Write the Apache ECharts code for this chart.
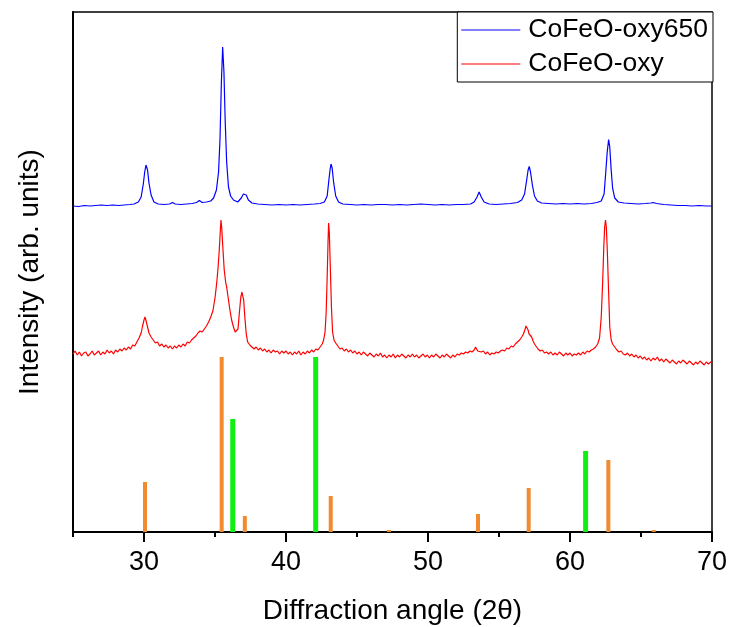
<!DOCTYPE html>
<html><head><meta charset="utf-8">
<script src="https://cdn.jsdelivr.net/npm/echarts@6/dist/echarts.min.js"></script>
<style>html,body{margin:0;padding:0;background:#fff}#c{width:729px;height:627px}</style>
</head><body><div id="c"></div><script>
const seriesNames = ['CoFeO-oxy650', 'CoFeO-oxy'];
const xTickLabels = [30, 40, 50, 60, 70];
const xMinorTicks = [25, 35, 45, 55, 65];

const blueData = [
[25.0,326],[25.4,325.5],[25.8,326.5],[26.2,326],[26.6,326.5],[27.0,327],[27.4,326.5],[27.8,327],[28.2,326.5],[28.6,327],
[29.0,327.5],[29.3,328],[29.6,330],[29.8,335],[29.95,348],[30.05,360],[30.14,367],[30.25,362],[30.35,349],[30.5,337],
[30.7,330],[31.0,328],[31.4,327.5],[31.8,328],[32.0,329.5],[32.2,328],[32.6,327.5],[33.0,328],[33.4,328.5],[33.7,329.5],
[33.9,331.5],[34.1,329.5],[34.4,330],[34.7,331],[34.9,334],[35.1,342],[35.25,360],[35.35,392],[35.45,450],[35.54,485],
[35.63,460],[35.72,410],[35.82,370],[35.95,345],[36.1,336],[36.3,332],[36.6,330],[36.85,334],[37.0,338],[37.1,340],
[37.2,337],[37.35,332],[37.6,329],[38.0,328],[38.5,327.5],[39.0,327],[39.5,327.5],[40.0,327],[40.5,327.5],[41.0,327],
[41.5,327.5],[42.0,328],[42.4,328.5],[42.7,330],[42.9,336],[43.02,352],[43.1,362],[43.17,368],[43.25,364],[43.35,350],
[43.5,336],[43.7,330],[44.0,328],[44.5,327.5],[45.0,327],[45.5,327.5],[46.0,327],[46.5,327.5],[47.0,327.5],[47.5,327],
[48.0,327.5],[48.5,327],[49.0,327.5],[49.5,328],[50.0,327.5],[50.5,327],[51.0,327.5],[51.5,327],[52.0,327.5],[52.5,327.5],
[53.0,328],[53.25,330],[53.45,335],[53.6,340],[53.75,335],[53.95,330],[54.3,328],[54.8,327.5],[55.3,328],[55.8,328.5],
[56.3,329.5],[56.6,332],[56.8,338],[56.95,352],[57.05,362],[57.13,365.5],[57.22,360],[57.35,347],[57.5,336],[57.7,331],
[58.0,329],[58.5,328.5],[59.0,328],[59.5,328.5],[60.0,328],[60.5,328.5],[61.0,328],[61.5,328.5],[61.9,329.5],[62.2,331],
[62.4,338],[62.52,360],[62.62,380],[62.72,392.5],[62.8,385],[62.9,362],[63.0,344],[63.15,334],[63.4,330],[63.8,329],
[64.3,328.5],[64.8,328],[65.3,328.5],[65.7,329],[65.85,329.5],[66.1,328.5],[66.6,327.5],[67.1,327],[67.6,326.5],[68.1,326.5],
[68.6,326],[69.1,326.5],[69.6,326],[70.0,326]
];

const redData = [
[25.0,178],[25.15,181],[25.3,177],[25.45,180],[25.6,176],[25.75,179],[25.9,180],[26.05,176],[26.2,178],[26.35,181],
[26.5,177],[26.65,179],[26.8,181],[26.95,177],[27.1,180],[27.25,178],[27.4,182],[27.55,179],[27.7,181],[27.85,178],
[28.0,182],[28.15,180],[28.3,183],[28.45,181],[28.6,184],[28.75,182],[28.9,185],[29.05,183],[29.2,187],[29.35,186],
[29.5,190],[29.65,194],[29.8,199],[29.9,206],[30.0,212],[30.07,215],[30.15,211],[30.25,205],[30.35,199],[30.5,195],
[30.65,192],[30.8,189],[30.95,190],[31.1,186],[31.25,188],[31.4,185],[31.55,187],[31.7,184],[31.85,186],[32.0,183],
[32.15,186],[32.3,184],[32.45,187],[32.6,185],[32.75,188],[32.9,186],[33.05,190],[33.2,189],[33.35,192],[33.5,194],
[33.65,196],[33.8,199],[33.95,201],[34.1,200],[34.25,203],[34.4,206],[34.55,210],[34.7,215],[34.85,221],[35.0,234],
[35.12,249],[35.22,265],[35.3,282],[35.37,300],[35.42,312],[35.47,305],[35.55,285],[35.65,262],[35.75,250],[35.82,245],
[35.95,232],[36.05,222],[36.17,212],[36.3,205],[36.42,200],[36.53,199],[36.62,203],[36.72,220],[36.82,235],[36.9,240],
[36.95,239],[37.02,232],[37.1,215],[37.2,198],[37.3,190],[37.45,187],[37.6,185],[37.75,183],[37.9,185],[38.05,182],
[38.2,184],[38.35,181],[38.5,183],[38.65,180],[38.8,182],[38.95,179],[39.1,182],[39.25,180],[39.4,181],[39.55,178],
[39.7,181],[39.85,179],[40.0,181],[40.15,178],[40.3,180],[40.45,177],[40.6,180],[40.75,178],[40.9,181],[41.05,177],
[41.2,180],[41.35,178],[41.5,181],[41.65,179],[41.8,182],[41.95,180],[42.1,183],[42.25,182],[42.4,185],[42.55,188],
[42.65,192],[42.75,200],[42.83,220],[42.9,255],[42.96,290],[43.0,309],[43.05,300],[43.12,265],[43.2,225],[43.28,200],
[43.38,192],[43.5,189],[43.65,186],[43.8,183],[43.95,184],[44.1,181],[44.25,183],[44.4,180],[44.55,182],[44.7,179],
[44.85,181],[45.0,178],[45.15,180],[45.3,177],[45.45,180],[45.6,178],[45.75,176],[45.9,179],[46.05,177],[46.2,175],
[46.35,178],[46.5,176],[46.65,179],[46.8,175],[46.95,177],[47.1,174],[47.25,177],[47.4,175],[47.55,178],[47.7,174],
[47.85,177],[48.0,175],[48.15,178],[48.3,176],[48.45,174],[48.6,177],[48.75,175],[48.9,178],[49.05,175],[49.2,177],
[49.35,174],[49.5,176],[49.65,178],[49.8,175],[49.95,177],[50.1,174],[50.25,177],[50.4,175],[50.55,178],[50.7,176],
[50.85,174],[51.0,177],[51.15,175],[51.3,178],[51.45,176],[51.6,174],[51.75,177],[51.9,175],[52.05,178],[52.2,177],
[52.35,179],[52.5,178],[52.65,180],[52.8,179],[52.95,181],[53.1,180],[53.25,182],[53.35,185],[53.43,183],[53.5,181],
[53.6,183],[53.75,180],[53.9,181],[54.05,178],[54.2,180],[54.35,177],[54.5,179],[54.65,178],[54.8,180],[54.95,179],
[55.1,181],[55.25,182],[55.4,181],[55.55,184],[55.7,183],[55.85,186],[56.0,185],[56.15,188],[56.3,190],[56.45,192],
[56.6,195],[56.72,198],[56.82,202],[56.9,206],[56.97,204],[57.05,202],[57.12,198],[57.2,200],[57.3,195],[57.4,191],
[57.5,188],[57.6,186],[57.75,183],[57.9,181],[58.05,182],[58.2,179],[58.35,180],[58.5,178],[58.65,180],[58.8,177],
[58.95,179],[59.1,177],[59.25,180],[59.4,178],[59.55,176],[59.7,179],[59.85,177],[60.0,179],[60.15,176],[60.3,178],
[60.45,177],[60.6,179],[60.75,177],[60.9,180],[61.05,178],[61.2,181],[61.35,180],[61.5,182],[61.65,183],[61.8,185],
[61.95,188],[62.08,194],[62.2,215],[62.3,250],[62.38,285],[62.44,305],[62.5,312],[62.56,305],[62.63,280],[62.72,240],
[62.8,205],[62.9,192],[63.0,188],[63.15,185],[63.3,182],[63.45,180],[63.6,181],[63.75,178],[63.9,177],[64.05,179],
[64.2,176],[64.35,178],[64.5,175],[64.65,177],[64.8,174],[64.95,176],[65.1,173],[65.25,175],[65.4,172],[65.55,174],
[65.7,171],[65.85,174],[66.0,172],[66.15,175],[66.3,171],[66.45,173],[66.6,170],[66.75,173],[66.9,171],[67.05,169],
[67.2,172],[67.35,170],[67.5,168],[67.65,171],[67.8,169],[67.95,172],[68.1,170],[68.25,168],[68.4,171],[68.55,169],
[68.7,167],[68.85,170],[69.0,168],[69.15,171],[69.3,169],[69.45,167],[69.6,170],[69.75,168],[69.9,170],[70.0,169]
];

const orangeRefPos = [30.07, 35.47, 37.1, 43.15, 47.25, 53.52, 57.09, 62.7, 65.9];
const orangeRefInt = [50, 175, 16, 36, 2, 18, 44, 72, 2];
const greenRefPos = [36.25, 42.09, 61.1];
const greenRefInt = [113, 175, 81];

const FONT = 'Liberation Sans, Arial, sans-serif';

function stickRender(w) {
  return function (params, api) {
    const x = api.value(0), h = api.value(1);
    const p0 = api.coord([x, 0]);
    const p1 = api.coord([x, h]);
    return {
      type: 'rect',
      shape: { x: p0[0] - w / 2, y: p1[1], width: w, height: p0[1] - p1[1] },
      style: { fill: api.visual('color') }
    };
  };
}

const chart = echarts.init(document.getElementById('c'), null, { renderer: 'canvas' });
chart.setOption({
  animation: false,
  backgroundColor: '#fff',
  grid: { left: 73, right: 17, top: 12, bottom: 95, containLabel: false, outerBoundsMode: 'none',
          show: true, borderColor: '#000', borderWidth: 1.5, backgroundColor: 'transparent' },
  legend: {
    data: seriesNames.map(n => ({ name: n, icon: 'rect' })),
    orient: 'vertical',
    right: 16, top: 12,
    backgroundColor: '#fff',
    borderColor: '#000', borderWidth: 1,
    borderRadius: 0,
    padding: [3, 5, 3, 4],
    itemGap: 4,
    itemWidth: 59, itemHeight: 1,
    textStyle: { fontFamily: FONT, fontSize: 26.5, color: '#000', lineHeight: 30, padding: [0, 0, 0, 3] }
  },
  xAxis: [{
    type: 'value', min: 25, max: 70, interval: 5,
    name: 'Diffraction angle (2\u03B8)', nameLocation: 'middle', nameGap: 65,
    nameTextStyle: { fontFamily: FONT, fontSize: 28, color: '#000' },
    axisLine: { show: true, onZero: false, lineStyle: { color: '#000', width: 2 } },
    axisTick: { show: true, inside: false, length: 10, customValues: xTickLabels, lineStyle: { color: '#000', width: 2 } },
    axisLabel: { show: true, customValues: xTickLabels, margin: 17, fontFamily: FONT, fontSize: 27, color: '#000' },
    splitLine: { show: false }
  }, {
    type: 'value', min: 25, max: 70, interval: 5, position: 'bottom',
    axisLine: { show: false },
    axisTick: { show: true, inside: false, length: 5, customValues: xMinorTicks, lineStyle: { color: '#000', width: 2 } },
    axisLabel: { show: false },
    splitLine: { show: false }
  }],
  yAxis: {
    type: 'value', min: 0, max: 520,
    name: 'Intensity (arb. units)', nameLocation: 'middle', nameGap: 29, nameRotate: 90,
    nameTextStyle: { fontFamily: FONT, fontSize: 28, color: '#000' },
    axisLine: { show: true, onZero: false, lineStyle: { color: '#000', width: 2 } },
    axisTick: { show: false }, axisLabel: { show: false }, splitLine: { show: false }
  },
  series: [
    { type: 'custom', name: 'ref-orange', renderItem: stickRender(4), encode: { x: 0, y: 1 },
      itemStyle: { color: '#F28A30' }, data: orangeRefPos.map((p, i) => [p, orangeRefInt[i]]), z: 1 },
    { type: 'custom', name: 'ref-green', renderItem: stickRender(5), encode: { x: 0, y: 1 },
      itemStyle: { color: '#11EE11' }, data: greenRefPos.map((p, i) => [p, greenRefInt[i]]), z: 1 },
    { type: 'line', name: seriesNames[0], data: blueData, showSymbol: false, symbol: 'none',
      lineStyle: { color: '#0000FF', width: 1.2 }, itemStyle: { color: '#0000FF' }, z: 3 },
    { type: 'line', name: seriesNames[1], data: redData, showSymbol: false, symbol: 'none',
      lineStyle: { color: '#FF0000', width: 1.2 }, itemStyle: { color: '#FF0000' }, z: 3 }
  ]
});
</script></body></html>
